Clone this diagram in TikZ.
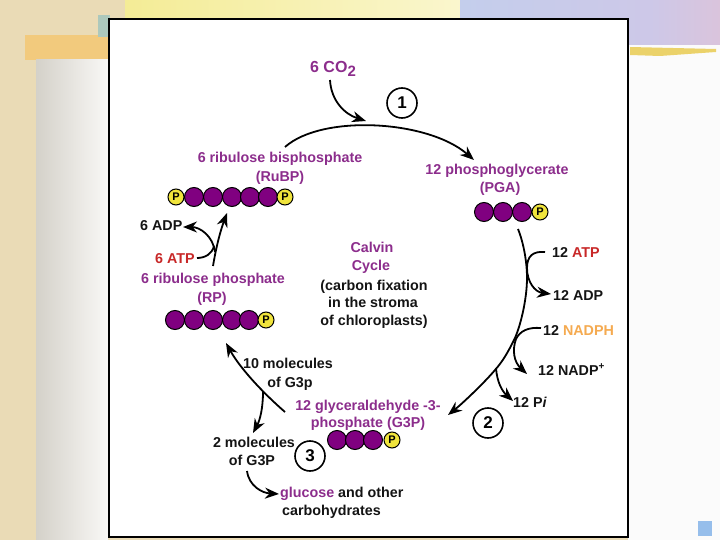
\documentclass[tikz,border=0pt]{standalone}
\usepackage{fontspec}
\setmainfont{Liberation Sans}
\usetikzlibrary{arrows.meta}
\definecolor{bgbeige}{RGB}{234,219,182}
\definecolor{bannerY}{RGB}{244,236,150}
\definecolor{bannerY2}{RGB}{250,246,205}
\definecolor{bannerB}{RGB}{196,206,236}
\definecolor{bannerB2}{RGB}{205,200,232}
\definecolor{bannerP}{RGB}{218,196,220}
\definecolor{goldstreak}{RGB}{232,200,70}
\definecolor{orangestrip}{RGB}{242,202,125}
\definecolor{grayL}{RGB}{212,209,201}
\definecolor{grayR}{RGB}{249,248,246}
\definecolor{tealbit}{RGB}{172,200,188}
\definecolor{iconblue}{RGB}{150,190,235}
\definecolor{lblpurple}{RGB}{140,45,140}
\definecolor{beadpurple}{RGB}{128,0,128}
\definecolor{pyellow}{RGB}{240,228,60}
\definecolor{atpred}{RGB}{200,40,40}
\definecolor{nadorange}{RGB}{245,170,80}
\definecolor{txtblack}{RGB}{20,20,20}
\newcommand\lblfont{\bfseries\fontsize{14.3}{18}\selectfont}
\tikzset{
  lbl/.style={font=\lblfont, text=lblpurple, inner sep=0pt, anchor=base},
  blk/.style={font=\lblfont, text=txtblack, inner sep=0pt, anchor=base},
  blkw/.style={font=\lblfont, text=txtblack, inner sep=0pt, anchor=base west},
  bead/.style={circle, draw=black, line width=1pt, fill=beadpurple, minimum size=19pt, inner sep=0pt},
  pbead/.style={circle, draw=black, line width=1pt, fill=pyellow, minimum size=16pt, inner sep=0pt,
    font=\bfseries\fontsize{11}{11}\selectfont, text=black},
  stepnum/.style={circle, draw=black, line width=1.6pt, minimum size=30pt, inner sep=0pt,
    font=\bfseries\fontsize{17}{17}\selectfont},
  arr/.style={line width=1.8pt, draw=black, -{Stealth[length=14pt,width=11pt,inset=4.5pt]}},
  ln/.style={line width=1.8pt, draw=black}
}
\begin{document}
\begin{tikzpicture}[x=1pt,y=-1pt]
\useasboundingbox (0,0) rectangle (720,540);
% ---------- slide background ----------
\fill[bgbeige] (0,0) rectangle (720,540);
\shade[left color=bannerY, right color=bannerY2] (125,0) rectangle (460,18);
\shade[left color=bannerB, right color=bannerB2] (460,0) rectangle (650,45);
\shade[left color=bannerB2, right color=bannerP] (650,0) rectangle (720,45);
\fill[white!97!gray] (628,45) rectangle (720,540);
\fill[goldstreak, opacity=0.8] (630,47) -- (716,49) -- (716,52) -- (660,56) -- (630,55) -- cycle;
\fill[orangestrip] (25,35) rectangle (108,60);
\shade[left color=grayL, right color=grayR] (36,60) rectangle (108,540);
\fill[tealbit] (98,15) rectangle (110,37);
\fill[iconblue] (698,521) rectangle (712,536);
% ---------- white frame ----------
\draw[line width=2pt, fill=white] (109,19) rectangle (628,537);

% ---------- labels ----------
\node[lbl, font=\bfseries\fontsize{16}{16}\selectfont] (co2) at (333,73) {6 CO\raisebox{-0.45ex}{\fontsize{15}{15}\selectfont 2}};
\node[lbl] (rubpA) at (280,163) {6 ribulose bisphosphate};
\node[lbl] (rubpB) at (280,182) {(RuBP)};
\node[blkw] (adp6) at (140,230) {6 ADP};
\node[blkw, text=atpred] (atp6) at (155,263) {6 ATP};
\node[lbl] (rpA) at (213,283) {6 ribulose phosphate};
\node[lbl] (rpB) at (212,302) {(RP)};
\node[lbl] (calv1) at (372,252) {Calvin};
\node[lbl] (calv2) at (371,270) {Cycle};
\node[blk] (calv3) at (374,290) {(carbon fixation};
\node[blk] (calv4) at (373,307) {in the stroma};
\node[blk] (calv5) at (374,325) {of chloroplasts)};
\node[lbl] (pgaA) at (497,175) {12 phosphoglycerate};
\node[lbl] (pgaB) at (500,193) {(PGA)};
\node[blkw] (atp12) at (552,257) {12 {\color{atpred}ATP}};
\node[blkw] (adp12) at (553,300) {12 ADP};
\node[blkw] (nadph) at (543,335) {12 {\color{nadorange}NADPH}};
\node[blkw] (nadp) at (538,375) {12 NADP\textsuperscript{+}};
\node[blkw] (pi) at (513,407) {12 P\textit{i}};
\node[lbl] (g3pA) at (368,410) {12 glyceraldehyde -3-};
\node[lbl] (g3pB) at (368,427) {phosphate (G3P)};
\node[blk] (tenA) at (288,368) {10 molecules};
\node[blk] (tenB) at (290,387) {of G3p};
\node[blk] (twoA) at (254,447) {2 molecules};
\node[blk] (twoB) at (252,465) {of G3P};
\node[blkw] (gluA) at (280,497) {{\color{lblpurple}glucose} and other};
\node[blkw] (gluB) at (282,515) {carbohydrates};

% ---------- step circles ----------
\node[stepnum] (s1) at (402,103) {1};
\node[stepnum] (s2) at (488,423) {2};
\node[stepnum] (s3) at (310,456) {3};

% ---------- bead chains ----------
\foreach \i/\x in {1/194,2/213,3/232,4/250,5/268} \node[bead] (rubp\i) at (\x,197) {};
\node[pbead] (rubpP1) at (176,197) {P};
\node[pbead] (rubpP2) at (285,197) {P};
\foreach \i/\x in {1/175,2/194,3/213,4/232,5/249} \node[bead] (rp\i) at (\x,320) {};
\node[pbead] (rpP) at (266,320) {P};
\foreach \i/\x in {1/484,2/503,3/522} \node[bead] (pga\i) at (\x,212) {};
\node[pbead] (pgaP) at (540,212) {P};
\foreach \i/\x in {1/337,2/355,3/373} \node[bead] (g3p\i) at (\x,440) {};
\node[pbead] (g3pP) at (392,440) {P};

% ---------- connector end points ----------
\coordinate (co2s) at (330,80);
\coordinate (co2e) at (366,121);
\coordinate (ta0) at (285,147);
\coordinate (ta1) at (474,160);
\coordinate (ra0) at (518,229);
\coordinate (m1) at (527,278);
\coordinate (m2) at (514,340);
\coordinate (m3) at (495,370);
\coordinate (ra1) at (448,415);
\coordinate (atpIn) at (545,252);
\coordinate (adpOut) at (551,294);
\coordinate (nadphIn) at (541,328);
\coordinate (nadpOut) at (527,374);
\coordinate (piS) at (496,368);
\coordinate (piOut) at (513,401);
\coordinate (g0) at (285,412);
\coordinate (g1) at (226,343);
\coordinate (b0) at (263,392);
\coordinate (b1) at (253,433);
\coordinate (gl0) at (247,471);
\coordinate (gl1) at (279,494);
\coordinate (r0) at (213,266);
\coordinate (r1) at (227,213);
\coordinate (atp6In) at (197,258);
\coordinate (adp6Out) at (183,227);

% ---------- cycle arcs ----------
\draw[arr] (co2s) .. controls (331,100) and (344,114) .. (co2e);
\draw[arr] (ta0) .. controls (322,114) and (428,120) .. (ta1);
\draw[arr] (ra0) .. controls +(6,15) and +(0,-15) .. (m1)
  .. controls +(0,22) and +(6,-12) .. (m2)
  .. controls +(-6,12) and +(8,-9) .. (m3)
  .. controls +(-10,12) and +(15,-12) .. (ra1);
% right side branches
\draw[arr] (atpIn) .. controls (533,251) and (527,256) .. (527,268)
  .. controls (527,282) and (535,292) .. (adpOut);
\draw[arr] (nadphIn) .. controls (528,327) and (520,331) .. (516,339)
  .. controls (512,350) and (514,362) .. (nadpOut);
\draw[arr] (piS) .. controls (497,382) and (502,391) .. (piOut);
% left side
\draw[arr] (g0) .. controls (262,392) and (240,368) .. (g1);
\draw[arr] (b0) .. controls (263,408) and (260,420) .. (b1);
\draw[arr] (gl0) .. controls (249,486) and (262,493) .. (gl1);
\draw[arr] (r0) .. controls (216,248) and (220,232) .. (r1);
\draw[ln] (atp6In) .. controls (205,258) and (212,254) .. (214,246);
\draw[arr] (215,252) .. controls (213,236) and (200,227) .. (adp6Out);
\end{tikzpicture}
\end{document}
